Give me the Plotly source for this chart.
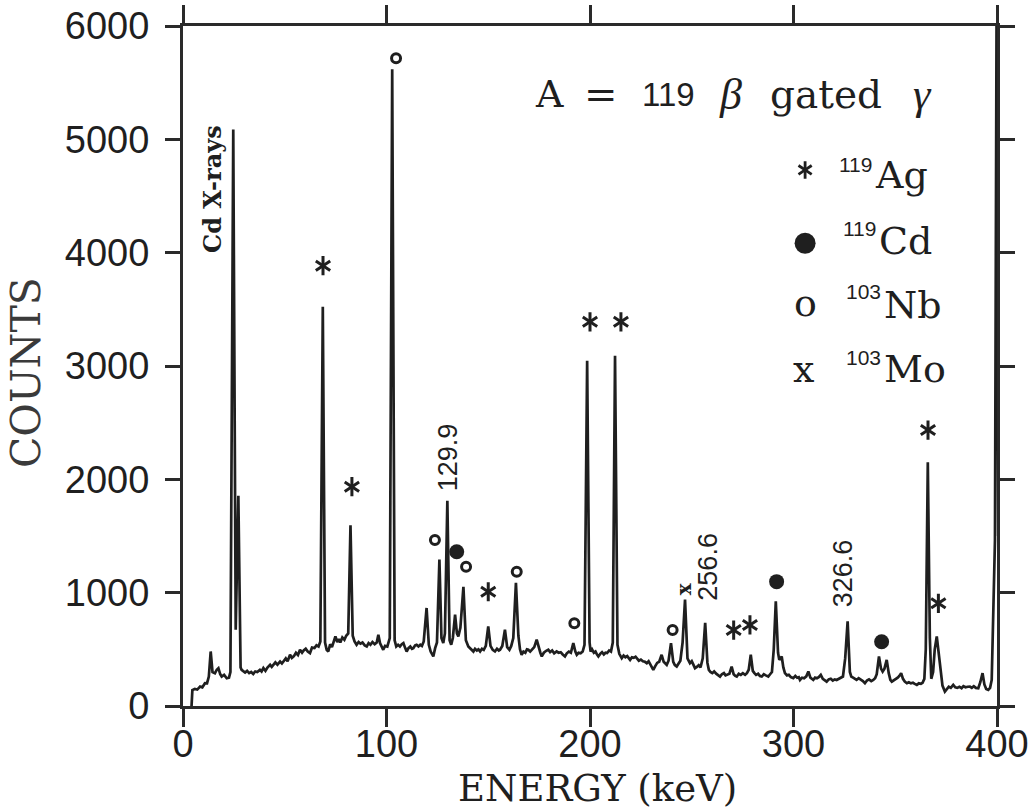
import plotly.graph_objects as go

# Beta-gated gamma spectrum for A = 119, read as (energy in keV, counts)
spectrum_0_100 = [
    (4.2, 0), (4.6, 140), (5.8, 150), (7.0, 145), (8.4, 171), (9.5, 165), (10.8, 201),
    (11.8, 200), (12.7, 260), (13.6, 481), (14.5, 300), (15.7, 290), (16.6, 320),
    (17.4, 334), (18.3, 280), (19.0, 260), (20.2, 275), (21.5, 245), (22.6, 250),
    (23.3, 300), (24.7, 5087), (25.9, 673), (27.2, 1854), (28.3, 340), (28.8, 319),
    (29.8, 300), (30.5, 295), (31.5, 310), (32.5, 290), (33.5, 300), (34.5, 283),
    (35.5, 305), (36.5, 300), (37.8, 319), (38.6, 305), (39.5, 335), (40.5, 310),
    (41.5, 340), (42.8, 363), (43.6, 345), (44.4, 360), (45.4, 385), (46.4, 365),
    (47.7, 392), (48.6, 375), (49.5, 400), (50.5, 420), (51.4, 395), (52.6, 452),
    (53.5, 425), (54.5, 440), (55.5, 470), (56.5, 450), (57.5, 496), (58.5, 470),
    (59.3, 490), (60.3, 505), (61.3, 480), (62.4, 467), (63.4, 515), (64.6, 511),
    (65.6, 535), (66.6, 525), (67.5, 570), (68.7, 3522), (69.8, 560), (70.6, 495),
    (71.4, 481), (72.3, 545), (73.2, 520), (74.2, 590), (74.9, 614), (75.8, 565),
    (76.6, 590), (77.3, 560), (78.3, 605), (79.3, 585), (80.2, 620), (81.2, 640),
    (82.3, 1594), (83.4, 620), (84.3, 570), (85.3, 540), (86.3, 565), (87.2, 550),
    (88.2, 560), (89.3, 535), (90.3, 525), (91.2, 555), (92.1, 540), (93.1, 565),
    (94.2, 545), (95.2, 560), (96.0, 629), (96.8, 555), (97.6, 520), (98.4, 496),
    (99.3, 530), (100.4, 525),
]
spectrum_100_200 = [
    (101.6, 600), (102.8, 5618), (104.0, 580), (104.8, 525), (105.7, 540), (106.6, 525),
    (107.5, 545), (108.3, 555), (109.1, 515), (109.9, 481), (110.8, 510), (111.7, 525),
    (112.5, 505), (113.2, 511), (114.1, 535), (114.8, 540), (115.7, 525), (116.6, 540),
    (117.4, 530), (118.3, 570), (119.7, 865), (120.8, 540), (121.7, 480), (122.4, 455),
    (123.0, 437), (123.9, 510), (124.8, 560), (126.0, 1293), (127.0, 600), (127.9, 555),
    (128.7, 640), (129.9, 1810), (131.0, 580), (131.8, 540), (132.6, 600), (133.7, 806),
    (134.6, 640), (135.3, 614), (136.3, 690), (137.8, 1051), (139.0, 580), (140.2, 525),
    (141.0, 511), (141.8, 495), (142.7, 481), (143.5, 505), (144.4, 490), (145.2, 500),
    (146.0, 481), (146.9, 505), (147.8, 495), (148.8, 530), (150.0, 703), (151.1, 530),
    (152.2, 495), (153.3, 481), (154.3, 505), (155.2, 490), (155.8, 496), (156.9, 530),
    (158.2, 673), (159.3, 520), (160.4, 496), (161.3, 530), (162.3, 600), (163.6, 1087),
    (164.8, 620), (165.6, 500), (166.4, 452), (167.3, 480), (168.2, 470), (169.0, 500),
    (169.7, 496), (170.6, 480), (171.6, 500), (172.6, 520), (173.8, 585), (174.8, 510),
    (175.6, 470), (176.3, 437), (177.3, 470), (178.3, 485), (179.5, 496), (180.4, 475),
    (181.4, 490), (182.4, 465), (183.6, 481), (184.6, 470), (185.6, 475), (186.6, 455),
    (187.7, 437), (188.6, 465), (189.6, 480), (190.6, 470), (191.8, 555), (192.8, 480),
    (193.5, 452), (194.4, 470), (195.4, 465), (196.4, 480), (197.3, 540), (198.6, 3047),
    (199.8, 560), (200.3, 481),
]
spectrum_200_300 = [
    (201.0, 500), (201.9, 470), (202.7, 480), (203.4, 455), (204.1, 437), (205.0, 460),
    (205.9, 475), (206.8, 455), (207.6, 470), (208.4, 467), (209.4, 490), (210.3, 480),
    (211.2, 560), (212.3, 3091), (213.5, 540), (214.4, 460), (215.6, 422), (216.5, 445),
    (217.4, 430), (218.3, 440), (219.2, 420), (219.7, 407), (220.6, 430), (221.5, 425),
    (222.4, 435), (222.9, 422), (224.0, 400), (225.0, 410), (226.0, 395), (227.0, 390),
    (227.9, 378), (228.8, 395), (229.7, 360), (230.5, 340), (231.1, 319), (232.0, 350),
    (233.0, 380), (234.0, 390), (235.2, 452), (236.2, 390), (237.0, 375), (237.7, 363),
    (238.6, 400), (239.8, 555), (240.9, 390), (241.7, 360), (242.6, 348), (243.5, 380),
    (244.4, 400), (245.5, 560), (246.7, 939), (247.9, 420), (248.6, 390), (249.1, 378),
    (250.0, 395), (250.8, 360), (251.6, 334), (252.5, 345), (253.4, 360), (254.3, 340),
    (255.4, 420), (256.6, 733), (257.7, 380), (258.4, 319), (259.2, 300), (260.1, 290),
    (261.0, 305), (262.0, 285), (263.0, 275), (263.9, 260), (264.8, 280), (265.8, 290),
    (266.6, 270), (267.5, 275), (268.5, 285), (269.6, 348), (270.6, 280), (271.4, 265),
    (272.1, 260), (273.1, 285), (274.1, 275), (275.1, 290), (276.2, 275), (277.1, 290),
    (278.0, 320), (279.0, 452), (280.0, 310), (280.8, 290), (281.6, 275), (282.6, 285),
    (283.5, 265), (284.4, 260), (285.4, 280), (286.4, 270), (287.6, 260), (288.5, 280),
    (289.4, 300), (290.3, 500), (291.3, 924), (292.4, 470), (293.0, 407), (294.2, 437),
    (295.0, 340), (295.8, 290), (296.8, 270), (297.7, 275), (298.7, 255), (299.9, 245),
]
spectrum_300_400 = [
    (300.9, 265), (301.8, 250), (302.6, 255), (303.2, 230), (304.2, 250), (305.2, 245),
    (306.3, 262), (307.3, 304), (308.3, 250), (309.0, 240), (309.7, 230), (310.6, 250),
    (311.5, 245), (312.4, 255), (313.4, 275), (314.4, 240), (315.3, 225), (316.3, 215),
    (317.3, 235), (318.3, 240), (319.3, 225), (320.3, 235), (321.2, 230), (322.2, 240),
    (323.2, 245), (324.3, 260), (325.4, 420), (326.6, 747), (327.7, 300), (328.4, 260),
    (329.3, 250), (330.2, 240), (331.0, 230), (332.0, 245), (333.0, 235), (334.1, 220),
    (335.1, 201), (336.1, 225), (337.1, 235), (338.2, 220), (339.2, 230), (340.1, 245),
    (340.9, 280), (342.0, 437), (343.0, 330), (343.8, 304), (344.7, 330), (345.8, 407),
    (346.8, 290), (347.6, 230), (348.3, 215), (349.2, 225), (350.2, 240), (351.2, 250),
    (352.0, 265), (352.9, 290), (353.8, 240), (354.7, 215), (355.7, 201), (356.7, 210),
    (357.7, 200), (358.7, 205), (359.6, 195), (360.6, 186), (361.6, 200), (362.6, 195),
    (363.4, 205), (364.3, 240), (365.0, 500), (366.0, 2150), (367.0, 600), (367.7, 240),
    (368.6, 300), (369.4, 500), (370.4, 614), (371.4, 470), (372.3, 300), (373.2, 180),
    (374.4, 127), (375.4, 150), (376.3, 170), (377.3, 160), (378.5, 186), (379.5, 165),
    (380.5, 160), (381.5, 170), (382.6, 157), (383.5, 175), (384.5, 165), (385.6, 170),
    (386.7, 171), (387.6, 160), (388.6, 175), (389.6, 160), (390.8, 157), (391.8, 210),
    (392.9, 290), (393.8, 190), (394.7, 150), (395.7, 142), (396.6, 160), (397.4, 230),
    (399.0, 1465), (399.8, 6200), (400.6, 1500),
]

spectrum = spectrum_0_100 + spectrum_100_200 + spectrum_200_300 + spectrum_300_400
energy_kev = [e for e, _ in spectrum]
counts = [c for _, c in spectrum]

x_tick_values = [0, 100, 200, 300, 400]
y_tick_values = [0, 1000, 2000, 3000, 4000, 5000, 6000]

# peak energies printed beside their lines
labelled_energies = [129.9, 256.6, 326.6]
labelled_positions = [(130.0, 2190), (257.8, 1226), (324.5, 1174)]

# isotope tags placed above the lines (energy, counts)
ag119_tags = [(68.8, 3885), (83.0, 1935), (150.0, 1008), (200.0, 3390), (215.2, 3390),
              (270.6, 670), (278.6, 715), (366.1, 2435), (371.2, 906)]
cd119_tags = [(134.5, 1361), (291.7, 1097), (343.3, 567)]
nb103_tags = [(104.7, 5715), (123.8, 1465), (139.1, 1229), (164.0, 1185),
              (192.3, 730), (240.6, 671)]
mo103_tags = [(246.2, 1030)]

INK = "#1f1f1f"
TYPE = "DejaVu Serif"
SANS = "Liberation Sans"
SERIF = "Liberation Serif"

fig = go.Figure()

fig.add_trace(go.Scatter(
    x=energy_kev, y=counts, mode="lines",
    line=dict(color=INK, width=2.7), hoverinfo="skip", showlegend=False,
))


def star_traces(points, size, width):
    # six-armed asterisk built from two opposing Y symbols
    xs = [p[0] for p in points]
    ys = [p[1] for p in points]
    for sym in ("y-up", "y-down"):
        fig.add_trace(go.Scatter(
            x=xs, y=ys, mode="markers", showlegend=False, hoverinfo="skip",
            marker=dict(symbol=sym, size=size, color=INK,
                        line=dict(color=INK, width=width)),
        ))


star_traces(ag119_tags, 12, 3)

fig.add_trace(go.Scatter(
    x=[p[0] for p in cd119_tags], y=[p[1] for p in cd119_tags], mode="markers",
    marker=dict(symbol="circle", size=15, color=INK, line=dict(width=0)),
    showlegend=False, hoverinfo="skip",
))
fig.add_trace(go.Scatter(
    x=[p[0] for p in nb103_tags], y=[p[1] for p in nb103_tags], mode="markers",
    marker=dict(symbol="circle-open", size=9, color=INK, line=dict(color=INK, width=3)),
    showlegend=False, hoverinfo="skip",
))

annotations = []
for (e, c) in mo103_tags:
    annotations.append(dict(x=e, y=c, text="<b>x</b>", textangle=-90, showarrow=False,
                            font=dict(family=TYPE, size=20, color=INK)))

for value, (px, py) in zip(labelled_energies, labelled_positions):
    annotations.append(dict(x=px, y=py, text=f"{value:.1f}", textangle=-90, showarrow=False,
                            font=dict(family=SANS, size=27, color=INK)))

annotations.append(dict(x=14.7, y=4562, text="<b>Cd X-rays</b>", textangle=-90,
                        showarrow=False, font=dict(family=TYPE, size=24, color=INK)))

# heading "A = 119 β gated γ"
heading = [
    ("A", 180.3, TYPE, 38),
    ("=", 205.4, TYPE, 40),
    ("119", 238.8, SANS, 33),
    ("<i>β</i>", 268.8, SERIF, 44),
    ("gated", 316.2, TYPE, 39),
    ("<i>γ</i>", 363.4, SERIF, 44),
]
for text, e, fam, size in heading:
    annotations.append(dict(x=e, y=5400, text=text, showarrow=False,
                            font=dict(family=fam, size=size, color=INK)))

# key for the isotope tags
key_rows = [
    ("119", "Ag", 4685, 4774, 339.1),
    ("119", "Cd", 4105, 4215, 340.9),
    ("103", "Nb", 3538, 3656, 343.3),
    ("103", "Mo", 2974, 3075, 343.3),
]
for mass, elem, y_elem, y_mass, x_elem in key_rows:
    annotations.append(dict(x=x_elem, y=y_elem, text=elem, xanchor="left", showarrow=False,
                            font=dict(family=TYPE, size=38, color=INK)))
    annotations.append(dict(x=x_elem + 0.5, y=y_mass, text=mass, xanchor="right",
                            showarrow=False, font=dict(family=SANS, size=21, color=INK)))

annotations.append(dict(x=305.7, y=3560, text="o", showarrow=False,
                        font=dict(family=TYPE, size=38, color=INK)))
annotations.append(dict(x=305.0, y=2971, text="x", showarrow=False,
                        font=dict(family=TYPE, size=38, color=INK)))

star_traces([(305.7, 4730)], 11, 2.8)
fig.add_trace(go.Scatter(
    x=[305.7], y=[4083], mode="markers", showlegend=False, hoverinfo="skip",
    marker=dict(symbol="circle", size=21, color=INK, line=dict(width=0)),
))

# axis titles
annotations.append(dict(x=0.5086, y=-0.1215, xref="paper", yref="paper", text="ENERGY (keV)",
                        xanchor="center", yanchor="middle", showarrow=False,
                        font=dict(family=TYPE, size=37, color=INK)))
annotations.append(dict(x=-0.193, y=0.491, xref="paper", yref="paper", text="COUNTS",
                        xanchor="center", yanchor="middle", textangle=-90, showarrow=False,
                        font=dict(family=TYPE, size=41, color="#3a3a3a")))

axis_common = dict(
    showline=True, linewidth=3, linecolor="#2a2a2a", mirror="ticks",
    ticks="outside", tickwidth=2.8, tickcolor="#2a2a2a",
    showgrid=False, zeroline=False, automargin=False,
    tickfont=dict(family=SANS, size=38, color=INK),
)

fig.update_layout(
    width=1033, height=809,
    margin=dict(l=183, r=36, t=26, b=103),
    paper_bgcolor="white", plot_bgcolor="white",
    xaxis=dict(range=[0, 400], tickmode="array", tickvals=x_tick_values, ticklen=18,
               ticklabelstandoff=-16, **axis_common),
    yaxis=dict(range=[0, 6000], tickmode="array", tickvals=y_tick_values, ticklen=15,
               ticklabelstandoff=8, **axis_common),
    annotations=annotations,
    showlegend=False,
)

fig.write_html("out.html")
